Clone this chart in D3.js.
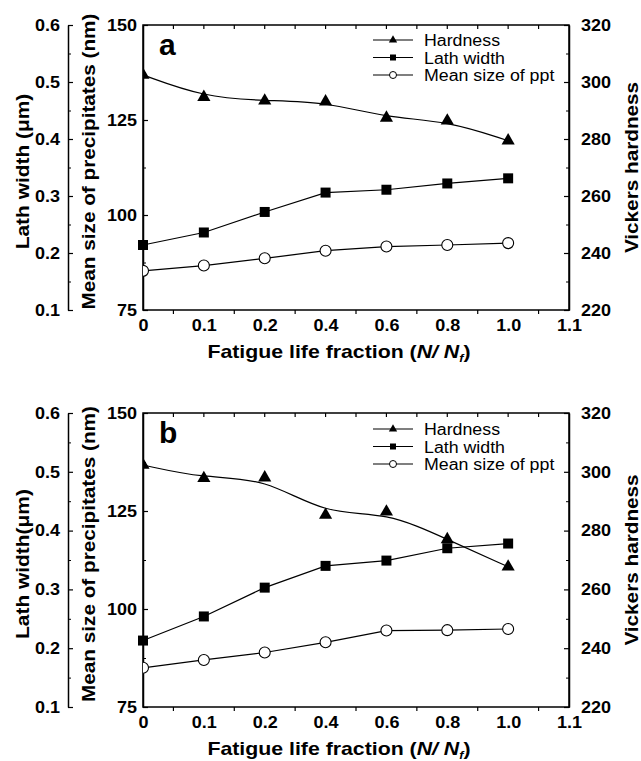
<!DOCTYPE html>
<html>
<head>
<meta charset="utf-8">
<script src="https://cdn.jsdelivr.net/npm/d3@7"></script>
<style>
  body { margin: 0; background: #fff; }
  svg text { font-family: Arial, "Liberation Sans", sans-serif; }
</style>
</head>
<body>
<div id="chart"></div>
<script>
// x categories (evenly spaced, not a real linear axis)
var fractions = ["0", "0.1", "0.2", "0.4", "0.6", "0.8", "1.0"];
var xTickLabels = ["0", "0.1", "0.2", "0.4", "0.6", "0.8", "1.0", "1.1"];

// panel a
var hardnessA = [302.5, 294.7, 293.4, 293.1, 287.4, 286.4, 279.4];
var lathA = [0.214, 0.236, 0.272, 0.306, 0.311, 0.322, 0.331];
var pptA = [85.3, 86.7, 88.6, 90.6, 91.7, 92.1, 92.6];

// panel b
var hardnessB = [302.3, 297.8, 298.0, 285.3, 286.4, 277.0, 267.7];
var lathB = [0.213, 0.254, 0.303, 0.340, 0.349, 0.370, 0.378];
var pptB = [85.0, 87.0, 88.9, 91.5, 94.5, 94.6, 94.9];

// axis ticks
var lathTicks = [0.1, 0.2, 0.3, 0.4, 0.5, 0.6];
var lathMinor = [0.15, 0.25, 0.35, 0.45, 0.55];
var pptTicks = [75, 100, 125, 150];
var pptMinor = [87.5, 112.5, 137.5];
var hvTicks = [220, 240, 260, 280, 300, 320];
var hvMinor = [230, 250, 270, 290, 310];

var legendNames = ["Hardness", "Lath width", "Mean size of ppt"];

var W = 641, H = 761;
var left = 143, right = 569, outerAxisX = 68;

var svg = d3.select("#chart")
    .append("svg")
    .attr("width", W)
    .attr("height", H);

var x = d3.scalePoint()
    .domain(xTickLabels)
    .range([left, right]);

drawPanel({ id: "a", top: 25, bottom: 310, letter: "a", lathTitle: "Lath width (\u03bcm)",
    hardness: hardnessA, lath: lathA, ppt: pptA, legendY: 40, titleY: 358 });
drawPanel({ id: "b", top: 413, bottom: 707, letter: "b", lathTitle: "Lath width(\u03bcm)",
    hardness: hardnessB, lath: lathB, ppt: pptB, legendY: 429, titleY: 755 });

// the original lettering is a bit wider than Arial, stretch it
svg.selectAll("text").each(function () {
    var k = +this.getAttribute("data-k") || 1.09;
    var len = this.getComputedTextLength();
    d3.select(this).attr("textLength", len * k).attr("lengthAdjust", "spacingAndGlyphs");
});

function drawPanel(p) {
    var yLath = d3.scaleLinear().domain([0.1, 0.6]).range([p.bottom, p.top]);
    var yPpt = d3.scaleLinear().domain([75, 150]).range([p.bottom, p.top]);
    var yHv = d3.scaleLinear().domain([220, 320]).range([p.bottom, p.top]);
    var mid = (p.top + p.bottom) / 2;

    var g = svg.append("g");

    //clip for markers sitting on the frame
    g.append("clipPath").attr("id", "clip-" + p.id)
        .append("rect")
        .attr("x", left).attr("y", p.top)
        .attr("width", right - left).attr("height", p.bottom - p.top);

    // frame
    g.append("rect")
        .attr("x", left).attr("y", p.top)
        .attr("width", right - left).attr("height", p.bottom - p.top)
        .attr("fill", "none").attr("stroke", "#000").attr("stroke-width", 1.5);

    // outer left axis (lath width)
    var ax1 = g.append("g").attr("transform", "translate(" + outerAxisX + ",0)")
        .call(d3.axisLeft(yLath).tickValues(lathTicks).tickFormat(d3.format(".1f"))
            .tickSizeInner(-5).tickSizeOuter(0).tickPadding(8));
    g.append("g").attr("transform", "translate(" + outerAxisX + ",0)")
        .call(d3.axisLeft(yLath).tickValues(lathMinor).tickFormat("")
            .tickSizeInner(-3).tickSizeOuter(0));

    // middle axis (ppt size) on frame left
    var ax2 = g.append("g").attr("transform", "translate(" + left + ",0)")
        .call(d3.axisLeft(yPpt).tickValues(pptTicks).tickSizeInner(-5).tickSizeOuter(0).tickPadding(6));
    g.append("g").attr("transform", "translate(" + left + ",0)")
        .call(d3.axisLeft(yPpt).tickValues(pptMinor).tickFormat("").tickSizeInner(-3).tickSizeOuter(0));

    // right axis (hardness)
    var ax3 = g.append("g").attr("transform", "translate(" + right + ",0)")
        .call(d3.axisRight(yHv).tickValues(hvTicks).tickSizeInner(-5).tickSizeOuter(0).tickPadding(12));
    g.append("g").attr("transform", "translate(" + right + ",0)")
        .call(d3.axisRight(yHv).tickValues(hvMinor).tickFormat("").tickSizeInner(-3).tickSizeOuter(0));

    // bottom axis, labels only, ticks go between labels
    var ax4 = g.append("g").attr("transform", "translate(0," + p.bottom + ")")
        .call(d3.axisBottom(x).tickSize(0).tickPadding(9));
    var half = x.step() / 2;
    var halfTicks = xTickLabels.slice(0, -1);
    g.selectAll(".btick").data(halfTicks).enter()
        .append("line")
        .attr("x1", d => x(d) + half).attr("x2", d => x(d) + half)
        .attr("y1", p.bottom).attr("y2", p.bottom + 4)
        .attr("stroke", "#000").attr("stroke-width", 1.2);
    // top ticks at every half step, pointing in
    var topPos = [];
    xTickLabels.forEach(function (d, i) {
        if (i > 0 && i < xTickLabels.length - 1) topPos.push(x(d));
        if (i < xTickLabels.length - 1) topPos.push(x(d) + half);
    });
    g.selectAll(".ttick").data(topPos).enter()
        .append("line")
        .attr("x1", d => d).attr("x2", d => d)
        .attr("y1", p.top).attr("y2", p.top + 4)
        .attr("stroke", "#000").attr("stroke-width", 1.2);

    [ax1, ax2, ax3, ax4].forEach(function (a) {
        a.select(".domain").attr("stroke-width", 1.5);
        a.selectAll(".tick line").attr("stroke-width", 1.2);
        a.selectAll(".tick text")
            .attr("font-size", 16.5).attr("font-weight", "bold").attr("fill", "#000");
        a.attr("font-family", null);
    });
    ax4.select(".domain").remove();

    // axis titles
    g.append("text")
        .attr("transform", "translate(29," + (mid + 4) + ") rotate(-90)")
        .attr("text-anchor", "middle")
        .attr("font-size", 18.5).attr("font-weight", "bold").attr("data-k", 1.13)
        .text(p.lathTitle);
    g.append("text")
        .attr("transform", "translate(95," + (mid - 6) + ") rotate(-90)")
        .attr("text-anchor", "middle")
        .attr("font-size", 18.5).attr("font-weight", "bold").attr("data-k", 1.12)
        .text("Mean size of precipitates (nm)");
    g.append("text")
        .attr("transform", "translate(638," + mid + ") rotate(-90)")
        .attr("text-anchor", "middle")
        .attr("font-size", 18.5).attr("font-weight", "bold").attr("data-k", 1.12)
        .text("Vickers hardness");

    var xt = g.append("text")
        .attr("x", 339).attr("y", p.titleY)
        .attr("text-anchor", "middle")
        .attr("font-size", 18.5).attr("font-weight", "bold").attr("data-k", 1.15);
    xt.append("tspan").text("Fatigue life fraction (");
    xt.append("tspan").attr("font-style", "italic").text("N/ N");
    xt.append("tspan").attr("font-style", "italic").attr("font-size", 11).attr("dy", 4).text("f");
    xt.append("tspan").attr("dy", -4).text(")");

    // panel letter
    g.append("text")
        .attr("x", 159).attr("y", p.top + 30)
        .attr("font-size", 30).attr("font-weight", "bold").attr("data-k", 1)
        .text(p.letter);

    // lines
    var hvLine = d3.line()
        .x((d, i) => x(fractions[i]))
        .y(d => yHv(d))
        .curve(d3.curveBasis);
    var lathLine = d3.line()
        .x((d, i) => x(fractions[i]))
        .y(d => yLath(d));
    var pptLine = d3.line()
        .x((d, i) => x(fractions[i]))
        .y(d => yPpt(d));

    g.append("path").attr("d", hvLine(p.hardness))
        .attr("fill", "none").attr("stroke", "#000").attr("stroke-width", 1.2);
    g.append("path").attr("d", lathLine(p.lath))
        .attr("fill", "none").attr("stroke", "#000").attr("stroke-width", 1.2);
    g.append("path").attr("d", pptLine(p.ppt))
        .attr("fill", "none").attr("stroke", "#000").attr("stroke-width", 1.2);

    // markers
    var tri = d3.symbol().type(d3.symbolTriangle).size(75);
    var sq = d3.symbol().type(d3.symbolSquare).size(100);

    g.append("g").attr("clip-path", "url(#clip-" + p.id + ")")
        .selectAll("path").data(p.hardness).enter()
        .append("path")
        .attr("d", tri)
        .attr("transform", (d, i) => "translate(" + x(fractions[i]) + "," + yHv(d) + ")")
        .attr("fill", "#000");

    g.append("g")
        .selectAll("path").data(p.lath).enter()
        .append("path")
        .attr("d", sq)
        .attr("transform", (d, i) => "translate(" + x(fractions[i]) + "," + yLath(d) + ")")
        .attr("fill", "#000");

    g.append("g").attr("clip-path", "url(#clip-" + p.id + ")")
        .selectAll("circle").data(p.ppt).enter()
        .append("circle")
        .attr("cx", (d, i) => x(fractions[i]))
        .attr("cy", d => yPpt(d))
        .attr("r", 5.5)
        .attr("fill", "#fff").attr("stroke", "#000").attr("stroke-width", 1.1);

    // legend
    var leg = g.append("g");
    legendNames.forEach(function (name, i) {
        var ly = p.legendY + i * 17.5;
        leg.append("line")
            .attr("x1", 373).attr("x2", 413).attr("y1", ly).attr("y2", ly)
            .attr("stroke", "#000").attr("stroke-width", 1.1);
        if (i == 0) {
            leg.append("path").attr("d", d3.symbol().type(d3.symbolTriangle).size(30))
                .attr("transform", "translate(393," + ly + ")").attr("fill", "#000");
        } else if (i == 1) {
            leg.append("rect").attr("x", 390).attr("y", ly - 3).attr("width", 6).attr("height", 6)
                .attr("fill", "#000");
        } else {
            leg.append("circle").attr("cx", 393).attr("cy", ly).attr("r", 3.5)
                .attr("fill", "#fff").attr("stroke", "#000").attr("stroke-width", 1);
        }
        leg.append("text")
            .attr("x", 424).attr("y", ly + 6)
            .attr("font-size", 16).attr("data-k", 1.11)
            .text(name);
    });
}
</script>
</body>
</html>
